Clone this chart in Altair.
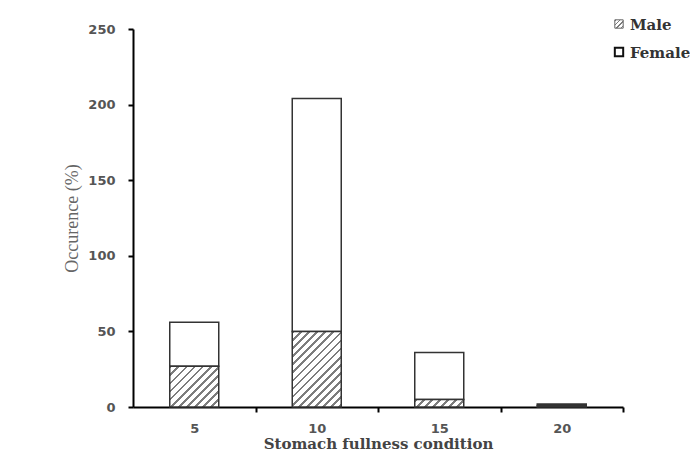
import altair as alt
import pandas as pd

# ---- data ----
conditions = [5, 10, 15, 20]
male = [27, 50, 5, 1]
female = [29, 154, 31, 1]
legend_labels = ["Male", "Female"]

# ---- layout ----
W, H = 490, 378
YMAX = 250
XMIN, XMAX = 2.5, 22.5
HALF_BAR = 1.0  # half bar width in x units
bar_px = 2 * HALF_BAR * W / (XMAX - XMIN)
px_per_unit = H / YMAX

df = pd.DataFrame({"cond": conditions, "male": male, "female": female})
df["total"] = df["male"] + df["female"]
df["lo"] = df["cond"] - HALF_BAR
df["hi"] = df["cond"] + HALF_BAR


def hatch(w, h, period=5.7, line=2.0, color="#7d7d7d", bg="#ffffff"):
    """Diagonal '/' hatch as a striped linear gradient (bbox units)."""
    w = max(w, 0.5)
    h = max(h, 0.5)
    k = h / w
    gx = (1 + k) / (1 + k * k)
    gy = k * gx
    length = (w + h) / 2 ** 0.5
    stops = []
    i = 0
    while i * period < length:
        a = min(i * period / length, 1)
        b = min((i * period + line) / length, 1)
        c = min((i + 1) * period / length, 1)
        stops += [
            {"offset": a, "color": color},
            {"offset": b, "color": color},
            {"offset": b, "color": bg},
            {"offset": c, "color": bg},
        ]
        i += 1
    return {"gradient": "linear", "x1": 0, "y1": 0, "x2": gx, "y2": gy, "stops": stops}


x_axis = alt.Axis(
    values=[5, 7.5, 10, 12.5, 15, 17.5, 20, 22.5],
    labelExpr="datum.value % 5 === 0 ? datum.label : ''",
    tickOpacity={"condition": {"test": "datum.value % 5 === 0", "value": 0}, "value": 1},
    title="Stomach fullness condition",
    grid=False,
)
y_axis = alt.Axis(values=[0, 50, 100, 150, 200, 250], title="Occurence (%)", grid=False)

x_enc = alt.X("lo:Q", scale=alt.Scale(domain=[XMIN, XMAX], nice=False, zero=False), axis=x_axis)
y_scale = alt.Scale(domain=[0, YMAX], nice=False)

stroke = "#333333"
sw = 1.5

base = alt.Chart(df)

female_layer = base.mark_bar(fill="white", stroke=stroke, strokeWidth=sw).encode(
    x=x_enc, x2="hi:Q",
    y=alt.Y("male:Q", scale=y_scale, axis=y_axis),
    y2="total:Q",
)

male_layers = []
for c, m in zip(conditions, male):
    male_layers.append(
        base.transform_filter(f"datum.cond == {c}")
        .mark_bar(fill=hatch(bar_px, m * px_per_unit), stroke=stroke, strokeWidth=sw)
        .encode(x=x_enc, x2="hi:Q", y=alt.Y("male:Q", scale=y_scale, axis=y_axis), y2=alt.datum(0))
    )

leg_df = pd.DataFrame({"label": legend_labels})
leg_x, leg_tx = 486, 497
leg_y = [-5, 23]
leg_font = dict(font="DejaVu Serif", fontWeight="bold", fontSize=15, color="#333333",
                align="left", baseline="middle")

leg_male_sym = alt.Chart(leg_df).transform_filter("datum.label == 'Male'").mark_square(
    size=70, fill=hatch(8.4, 8.4, period=3.2, line=1.2), stroke="#666666", strokeWidth=1, opacity=1
).encode(x=alt.value(leg_x), y=alt.value(leg_y[0]))
leg_female_sym = alt.Chart(leg_df).transform_filter("datum.label == 'Female'").mark_square(
    size=70, fill="white", stroke="#111111", strokeWidth=2, opacity=1
).encode(x=alt.value(leg_x), y=alt.value(leg_y[1]))
leg_male_txt = alt.Chart(leg_df).transform_filter("datum.label == 'Male'").mark_text(**leg_font).encode(
    x=alt.value(leg_tx), y=alt.value(leg_y[0] + 1), text="label:N")
leg_female_txt = alt.Chart(leg_df).transform_filter("datum.label == 'Female'").mark_text(**leg_font).encode(
    x=alt.value(leg_tx), y=alt.value(leg_y[1] + 1), text="label:N")

chart = alt.layer(
    female_layer, *male_layers, leg_male_sym, leg_female_sym, leg_male_txt, leg_female_txt
).properties(
    width=W, height=H,
    padding={"left": 125, "top": 21, "right": 67, "bottom": 46},
    autosize=alt.AutoSizeParams(type="none"),
    background="white",
).configure_view(stroke=None).configure_axis(
    domainColor="#000000", domainWidth=2,
    tickColor="#000000", tickWidth=2, tickSize=5,
    labelFont="DejaVu Sans", labelFontWeight="bold", labelFontSize=13, labelColor="#555555",
).configure_axisY(
    labelPadding=13,
    titleFont="Liberation Serif", titleFontWeight="normal", titleFontSize=18, titleColor="#666666",
    titlePadding=6,
).configure_axisX(
    labelPadding=10,
    titleFont="DejaVu Serif", titleFontWeight="bold", titleFontSize=15, titleColor="#444444",
    titlePadding=1,
)

chart.save("out.html", embed_options={"renderer": "svg", "actions": False})
